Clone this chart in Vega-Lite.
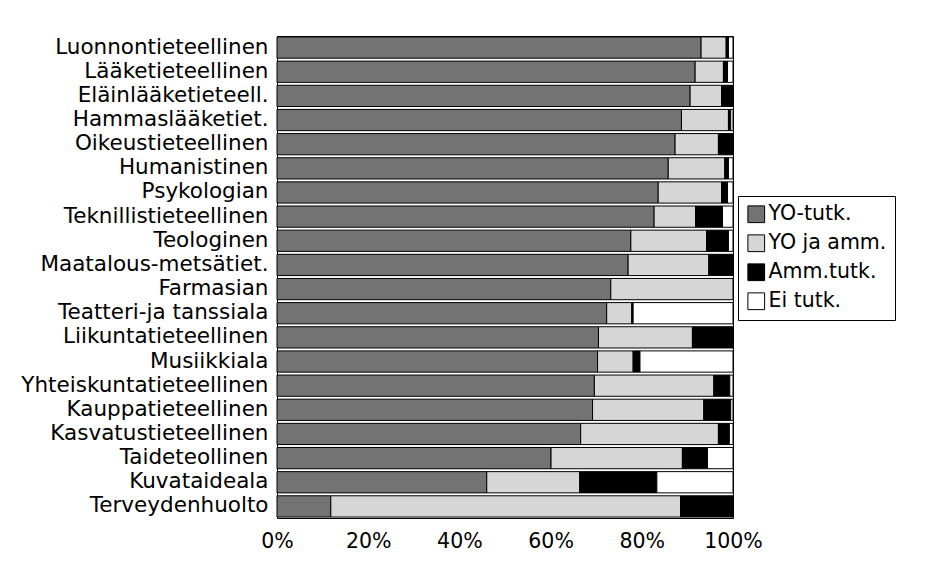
{
  "$schema": "https://vega.github.io/schema/vega-lite/v6.json",
  "width": 456,
  "height": 482,
  "autosize": "none",
  "padding": {"left": 277, "top": 36, "right": 194, "bottom": 57},
  "background": "white",
  "data": {
    "values": [
      {"c": "Luonnontieteellinen", "s": "YO-tutk.", "o": 1, "v": 93.0},
      {"c": "Luonnontieteellinen", "s": "YO ja amm.", "o": 2, "v": 5.5},
      {"c": "Luonnontieteellinen", "s": "Amm.tutk.", "o": 3, "v": 0.5},
      {"c": "Luonnontieteellinen", "s": "Ei tutk.", "o": 4, "v": 1.0},
      {"c": "Lääketieteellinen", "s": "YO-tutk.", "o": 1, "v": 91.7},
      {"c": "Lääketieteellinen", "s": "YO ja amm.", "o": 2, "v": 6.2},
      {"c": "Lääketieteellinen", "s": "Amm.tutk.", "o": 3, "v": 0.9},
      {"c": "Lääketieteellinen", "s": "Ei tutk.", "o": 4, "v": 1.2},
      {"c": "Eläinlääketieteell.", "s": "YO-tutk.", "o": 1, "v": 90.6},
      {"c": "Eläinlääketieteell.", "s": "YO ja amm.", "o": 2, "v": 6.9},
      {"c": "Eläinlääketieteell.", "s": "Amm.tutk.", "o": 3, "v": 2.5},
      {"c": "Hammaslääketiet.", "s": "YO-tutk.", "o": 1, "v": 88.7},
      {"c": "Hammaslääketiet.", "s": "YO ja amm.", "o": 2, "v": 10.3},
      {"c": "Hammaslääketiet.", "s": "Amm.tutk.", "o": 3, "v": 0.5},
      {"c": "Hammaslääketiet.", "s": "Ei tutk.", "o": 4, "v": 0.5},
      {"c": "Oikeustieteellinen", "s": "YO-tutk.", "o": 1, "v": 87.3},
      {"c": "Oikeustieteellinen", "s": "YO ja amm.", "o": 2, "v": 9.5},
      {"c": "Oikeustieteellinen", "s": "Amm.tutk.", "o": 3, "v": 3.2},
      {"c": "Humanistinen", "s": "YO-tutk.", "o": 1, "v": 85.8},
      {"c": "Humanistinen", "s": "YO ja amm.", "o": 2, "v": 12.4},
      {"c": "Humanistinen", "s": "Amm.tutk.", "o": 3, "v": 0.8},
      {"c": "Humanistinen", "s": "Ei tutk.", "o": 4, "v": 1.0},
      {"c": "Psykologian", "s": "YO-tutk.", "o": 1, "v": 83.6},
      {"c": "Psykologian", "s": "YO ja amm.", "o": 2, "v": 13.9},
      {"c": "Psykologian", "s": "Amm.tutk.", "o": 3, "v": 1.3},
      {"c": "Psykologian", "s": "Ei tutk.", "o": 4, "v": 1.2},
      {"c": "Teknillistieteellinen", "s": "YO-tutk.", "o": 1, "v": 82.7},
      {"c": "Teknillistieteellinen", "s": "YO ja amm.", "o": 2, "v": 9.1},
      {"c": "Teknillistieteellinen", "s": "Amm.tutk.", "o": 3, "v": 5.9},
      {"c": "Teknillistieteellinen", "s": "Ei tutk.", "o": 4, "v": 2.3},
      {"c": "Teologinen", "s": "YO-tutk.", "o": 1, "v": 77.6},
      {"c": "Teologinen", "s": "YO ja amm.", "o": 2, "v": 16.6},
      {"c": "Teologinen", "s": "Amm.tutk.", "o": 3, "v": 4.8},
      {"c": "Teologinen", "s": "Ei tutk.", "o": 4, "v": 1.0},
      {"c": "Maatalous-metsätiet.", "s": "YO-tutk.", "o": 1, "v": 77.0},
      {"c": "Maatalous-metsätiet.", "s": "YO ja amm.", "o": 2, "v": 17.7},
      {"c": "Maatalous-metsätiet.", "s": "Amm.tutk.", "o": 3, "v": 5.3},
      {"c": "Farmasian", "s": "YO-tutk.", "o": 1, "v": 73.2},
      {"c": "Farmasian", "s": "YO ja amm.", "o": 2, "v": 26.8},
      {"c": "Teatteri-ja tanssiala", "s": "YO-tutk.", "o": 1, "v": 72.3},
      {"c": "Teatteri-ja tanssiala", "s": "YO ja amm.", "o": 2, "v": 5.5},
      {"c": "Teatteri-ja tanssiala", "s": "Amm.tutk.", "o": 3, "v": 0.3},
      {"c": "Teatteri-ja tanssiala", "s": "Ei tutk.", "o": 4, "v": 21.9},
      {"c": "Liikuntatieteellinen", "s": "YO-tutk.", "o": 1, "v": 70.5},
      {"c": "Liikuntatieteellinen", "s": "YO ja amm.", "o": 2, "v": 20.6},
      {"c": "Liikuntatieteellinen", "s": "Amm.tutk.", "o": 3, "v": 8.9},
      {"c": "Musiikkiala", "s": "YO-tutk.", "o": 1, "v": 70.3},
      {"c": "Musiikkiala", "s": "YO ja amm.", "o": 2, "v": 7.8},
      {"c": "Musiikkiala", "s": "Amm.tutk.", "o": 3, "v": 1.5},
      {"c": "Musiikkiala", "s": "Ei tutk.", "o": 4, "v": 20.4},
      {"c": "Yhteiskuntatieteellinen", "s": "YO-tutk.", "o": 1, "v": 69.6},
      {"c": "Yhteiskuntatieteellinen", "s": "YO ja amm.", "o": 2, "v": 26.2},
      {"c": "Yhteiskuntatieteellinen", "s": "Amm.tutk.", "o": 3, "v": 3.5},
      {"c": "Yhteiskuntatieteellinen", "s": "Ei tutk.", "o": 4, "v": 0.7},
      {"c": "Kauppatieteellinen", "s": "YO-tutk.", "o": 1, "v": 69.2},
      {"c": "Kauppatieteellinen", "s": "YO ja amm.", "o": 2, "v": 24.4},
      {"c": "Kauppatieteellinen", "s": "Amm.tutk.", "o": 3, "v": 5.9},
      {"c": "Kauppatieteellinen", "s": "Ei tutk.", "o": 4, "v": 0.5},
      {"c": "Kasvatustieteellinen", "s": "YO-tutk.", "o": 1, "v": 66.6},
      {"c": "Kasvatustieteellinen", "s": "YO ja amm.", "o": 2, "v": 30.2},
      {"c": "Kasvatustieteellinen", "s": "Amm.tutk.", "o": 3, "v": 2.4},
      {"c": "Kasvatustieteellinen", "s": "Ei tutk.", "o": 4, "v": 0.8},
      {"c": "Taideteollinen", "s": "YO-tutk.", "o": 1, "v": 60.1},
      {"c": "Taideteollinen", "s": "YO ja amm.", "o": 2, "v": 28.8},
      {"c": "Taideteollinen", "s": "Amm.tutk.", "o": 3, "v": 5.5},
      {"c": "Taideteollinen", "s": "Ei tutk.", "o": 4, "v": 5.6},
      {"c": "Kuvataideala", "s": "YO-tutk.", "o": 1, "v": 46.0},
      {"c": "Kuvataideala", "s": "YO ja amm.", "o": 2, "v": 20.4},
      {"c": "Kuvataideala", "s": "Amm.tutk.", "o": 3, "v": 16.9},
      {"c": "Kuvataideala", "s": "Ei tutk.", "o": 4, "v": 16.7},
      {"c": "Terveydenhuolto", "s": "YO-tutk.", "o": 1, "v": 11.8},
      {"c": "Terveydenhuolto", "s": "YO ja amm.", "o": 2, "v": 76.7},
      {"c": "Terveydenhuolto", "s": "Amm.tutk.", "o": 3, "v": 11.5}
    ]
  },
  "mark": {"type": "bar", "stroke": "black", "strokeWidth": 1},
  "encoding": {
    "y": {
      "field": "c",
      "type": "nominal",
      "sort": null,
      "title": null,
      "scale": {"paddingInner": 0.12, "paddingOuter": 0.04},
      "axis": {
        "ticks": false,
        "domain": false,
        "labelPadding": 9,
        "labelFont": "DejaVu Sans",
        "labelFontSize": 21.5,
        "labelColor": "black",
        "labelLimit": 400
      }
    },
    "x": {
      "field": "v",
      "type": "quantitative",
      "stack": "normalize",
      "title": null,
      "scale": {"domain": [0, 1], "nice": false},
      "axis": {
        "values": [0, 0.2, 0.4, 0.6, 0.8, 1],
        "format": ".0%",
        "grid": false,
        "ticks": false,
        "domain": false,
        "labelPadding": 13,
        "labelFont": "DejaVu Sans",
        "labelFontSize": 20.5,
        "labelColor": "black",
        "labelFlush": false
      }
    },
    "color": {
      "field": "s",
      "type": "nominal",
      "sort": ["YO-tutk.", "YO ja amm.", "Amm.tutk.", "Ei tutk."],
      "scale": {
        "domain": ["YO-tutk.", "YO ja amm.", "Amm.tutk.", "Ei tutk."],
        "range": ["#737373", "#d6d6d6", "#000000", "#ffffff"]
      },
      "legend": {
        "title": null,
        "orient": "none",
        "legendX": 461,
        "legendY": 160,
        "strokeColor": "black",
        "padding": 8,
        "symbolType": "square",
        "symbolSize": 280,
        "symbolStrokeColor": "black",
        "symbolStrokeWidth": 1,
        "symbolOpacity": 1,
        "labelFont": "DejaVu Sans",
        "labelFontSize": 20.5,
        "labelColor": "black",
        "labelOffset": 2,
        "rowPadding": 7,
        "labelLimit": 300
      }
    },
    "order": {"field": "o", "type": "quantitative"}
  },
  "config": {
    "view": {"stroke": "black", "strokeWidth": 1}
  }
}
